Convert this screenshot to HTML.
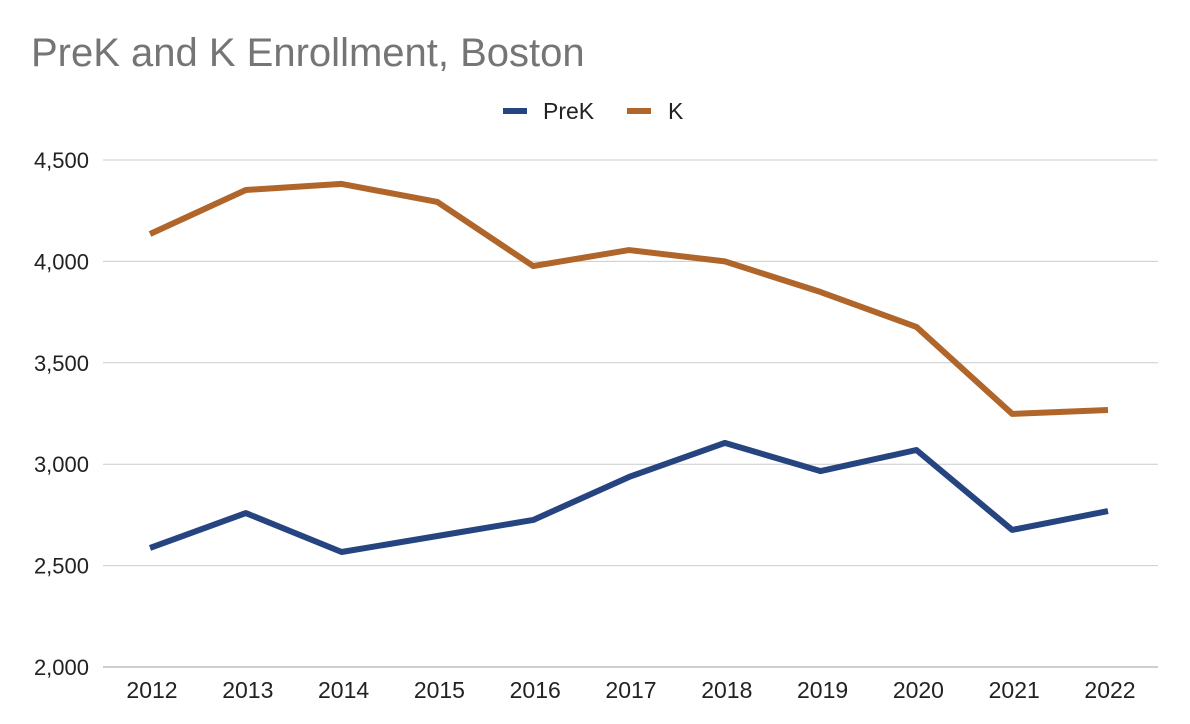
<!DOCTYPE html>
<html><head><meta charset="utf-8"><style>
body{margin:0;background:#fff;}
svg{display:block;font-family:"Liberation Sans",Arial,sans-serif;}
</style></head><body>
<svg id="chart" width="1190" height="724" viewBox="0 0 1190 724">
<rect width="1190" height="724" fill="#fff"/>
<text x="31" y="66" font-size="40" fill="#757575">PreK and K Enrollment, Boston</text>
<g>
<g><line x1="503" y1="111" x2="527" y2="111" stroke="#254480" stroke-width="6"/><text x="543" y="119" font-size="23" fill="#222">PreK</text></g>
<g><line x1="627" y1="111" x2="651" y2="111" stroke="#b0662a" stroke-width="6"/><text x="668" y="119" font-size="23" fill="#222">K</text></g>
</g>
<g id="grid"></g>
<g id="yaxis"></g>
<g id="xaxis"></g>
<g id="series"></g>
</svg>
<script>
const years=["2012","2013","2014","2015","2016","2017","2018","2019","2020","2021","2022"];
const prekValues=[2587,2759,2567,2646,2725,2937,3105,2966,3070,2676,2769];
const kValues=[4135,4352,4382,4293,3977,4056,4000,3849,3677,3248,3267];
const yTicks=[2000,2500,3000,3500,4000,4500];
const yTickLabels=["2,000","2,500","3,000","3,500","4,000","4,500"];
const NS="http://www.w3.org/2000/svg";
const yMin=2000,yMax=4500,yTop=160,yBot=667;
const x0=150,x1=1108,left=103,right=1158;
function yScale(v){return yBot-(v-yMin)/(yMax-yMin)*(yBot-yTop);}
function xScale(i){return x0+i*(x1-x0)/(years.length-1);}
function mk(tag,attrs,parent){const e=document.createElementNS(NS,tag);for(const k in attrs)e.setAttribute(k,attrs[k]);parent.appendChild(e);return e;}
const grid=document.getElementById('grid'),ya=document.getElementById('yaxis'),xa=document.getElementById('xaxis'),ser=document.getElementById('series');
yTicks.forEach((t,i)=>{
 const y=yScale(t);
 const l=mk('line',{x1:left,x2:right,y1:y,y2:y,stroke:i===0?'#9e9e9e':'#cccccc','stroke-width':1},grid);
 
 
 const tx=mk('text',{x:89,y:y+8,'font-size':22,fill:'#222','text-anchor':'end'},ya);
 tx.textContent=yTickLabels[i];
 
 
});
years.forEach((yr,i)=>{
 const tx=mk('text',{x:xScale(i)+2,y:698,'font-size':23,fill:'#222','text-anchor':'middle'},xa);
 tx.textContent=yr;
 
 
});
function line(vals,color,name){
 const pts=vals.map((v,i)=>xScale(i)+','+yScale(v)).join(' ');
 const p=mk('polyline',{points:pts,fill:'none',stroke:color,'stroke-width':6,'stroke-linejoin':'round','stroke-linecap':'butt'},ser);
 
 
}
line(kValues,'#b0662a','k-line');
line(prekValues,'#254480','prek-line');
</script>
</body></html>
